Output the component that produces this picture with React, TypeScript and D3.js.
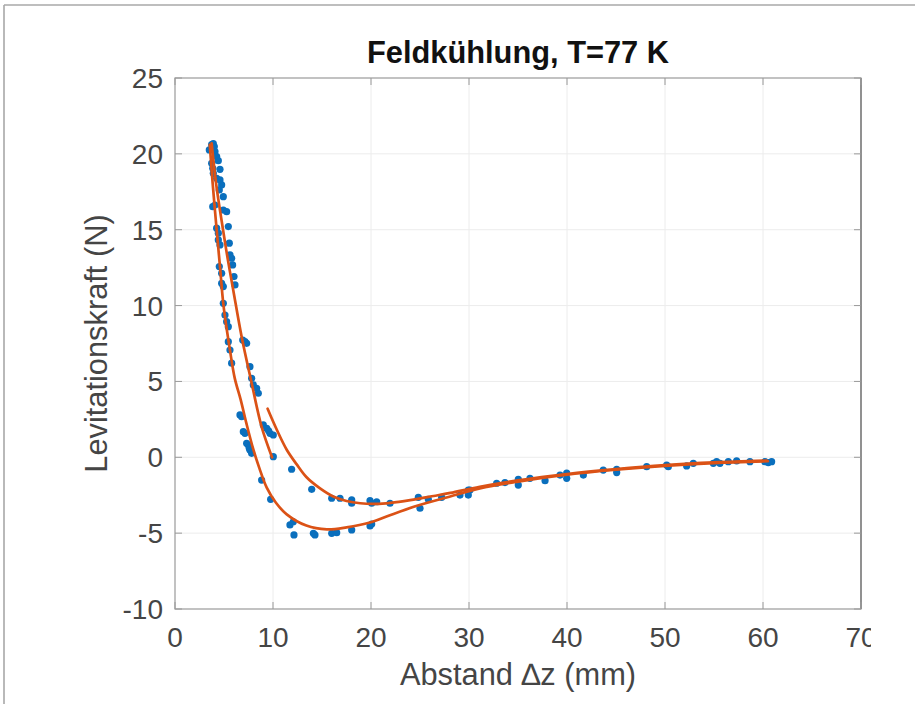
import React from 'react';
import * as d3 from 'd3';

type P = [number, number];

const titleText = 'Feldkühlung, T=77 K';
const xLabelText = 'Abstand \u2206z (mm)';
const yLabelText = 'Levitationskraft (N)';
const xTicks = [0, 10, 20, 30, 40, 50, 60, 70];
const yTicks = [-10, -5, 0, 5, 10, 15, 20, 25];

// measured points, steep part (Δz < 10.5 mm)
const dotsSteep: P[] = [
  [3.50, 20.26], [3.74, 20.61], [3.91, 20.67], [4.01, 20.48], [4.08, 20.15], [4.25, 19.82],
  [4.42, 19.55], [4.59, 18.98], [3.74, 19.38], [3.85, 19.05], [3.91, 18.72], [4.25, 18.39],
  [4.59, 18.28], [4.76, 17.95], [4.52, 17.62], [4.93, 17.18], [3.85, 16.52], [4.08, 16.63],
  [4.93, 16.30], [5.27, 16.19], [4.25, 15.10], [4.42, 14.77], [5.44, 15.21], [4.42, 14.33],
  [4.59, 14.00], [5.54, 14.11], [5.61, 13.34], [5.78, 13.12], [4.52, 12.57], [4.76, 12.13],
  [5.88, 12.68], [6.02, 11.91], [4.76, 11.47], [4.93, 11.25], [6.12, 11.36], [4.93, 10.15],
  [5.10, 9.38], [5.27, 8.94], [5.44, 8.61], [6.91, 7.73], [7.14, 7.62], [7.31, 7.51],
  [5.44, 7.62], [5.61, 7.07], [5.78, 6.20], [7.65, 5.97], [7.82, 5.21], [7.99, 4.77],
  [8.33, 4.55], [8.50, 4.22], [6.63, 2.79], [6.80, 2.68], [6.97, 1.69], [7.14, 1.58],
  [9.01, 2.13], [9.36, 1.91], [9.69, 1.58], [10.03, 1.47], [9.55, 1.75], [7.48, 0.81],
  [7.65, 0.48], [7.82, 0.26], [7.31, 0.92], [7.58, 0.59], [10.03, 0.04],
];

// measured points, minimum region
const dotsLow: P[] = [
  [8.84, -1.50], [9.76, -2.77], [11.90, -0.79], [13.95, -2.11], [15.99, -2.70], [16.84, -2.70],
  [18.03, -2.81], [18.03, -3.03], [19.90, -2.86], [20.07, -3.03], [20.58, -2.93], [21.94, -3.03],
  [24.83, -2.64], [25.00, -3.36], [25.85, -2.77], [27.21, -2.64], [29.08, -2.49], [30.10, -2.16],
  [11.73, -4.46], [12.07, -4.25], [12.14, -5.12], [14.12, -5.01], [14.28, -5.12], [15.99, -5.01],
  [16.50, -4.97], [18.03, -4.79], [19.90, -4.53], [20.07, -4.40],
];

// measured points, tail
const dotsTail: P[] = [
  [29.93, -2.16], [29.93, -2.49], [32.82, -1.71], [33.67, -1.67], [35.03, -1.45], [35.03, -1.83],
  [36.22, -1.39], [37.76, -1.54], [39.29, -1.17], [39.97, -1.05], [39.97, -1.39], [41.67, -1.17],
  [43.70, -0.84], [45.07, -0.79], [45.07, -1.01], [48.13, -0.62], [50.17, -0.51], [50.34, -0.62],
  [52.21, -0.57], [52.89, -0.40], [54.93, -0.40], [55.27, -0.29], [55.61, -0.40], [56.46, -0.29],
  [57.31, -0.24], [58.67, -0.29], [60.20, -0.29], [60.54, -0.35], [60.88, -0.29],
];

// fitted curves
const fitOuter: P[] = [
  [3.55, 20.6], [3.85, 18.0], [4.25, 15.0], [4.6, 12.5], [4.95, 10.0], [5.6, 7.1], [6.1, 5.2],
  [6.7, 3.8], [7.3, 2.2], [8.0, 0.5], [8.6, -0.7], [9.36, -2.0], [10.3, -3.0], [11.4, -3.76],
  [13.4, -4.5], [15.5, -4.75], [17.5, -4.62], [19.9, -4.3], [22.0, -3.8], [24.7, -3.2],
  [28.0, -2.6], [31.1, -2.05], [35.0, -1.6], [40.0, -1.15], [45.0, -0.82], [50.0, -0.56],
  [55.0, -0.38], [60.5, -0.26],
];
const fitInner: P[] = [
  [3.74, 20.7], [4.2, 18.0], [4.9, 15.0], [5.4, 13.0], [5.95, 11.0], [6.8, 7.95],
  [7.82, 4.9], [8.84, 2.0], [9.9, 0.0],
];
const fitReturn: P[] = [
  [9.45, 3.2], [10.4, 1.8], [11.4, 0.5], [12.4, -0.45], [13.4, -1.3], [14.8, -2.05],
  [16.2, -2.6], [17.5, -2.88], [18.9, -3.03], [20.5, -3.07], [22.0, -3.0], [24.0, -2.82],
  [26.4, -2.55], [28.1, -2.35], [31.1, -1.94], [35.0, -1.52], [40.0, -1.1], [45.0, -0.78],
  [50.0, -0.52], [55.0, -0.34], [60.4, -0.22],
];

export default function App() {
  const W = 915;
  const H = 704;
  const L = 175, R = 861, T = 78, B = 609;
  const x = d3.scaleLinear().domain([0, 70]).range([L, R]);
  const y = d3.scaleLinear().domain([-10, 25]).range([B, T]);
  const line = d3
    .line<P>()
    .x((d) => x(d[0]))
    .y((d) => y(d[1]))
    .curve(d3.curveCatmullRom.alpha(0.5));

  const font = "'Liberation Sans', Arial, Helvetica, sans-serif";
  const axisColor = '#9a9a9a';
  const textColor = '#454545';
  const gridColor = '#ececec';
  const allDots = [...dotsSteep, ...dotsLow, ...dotsTail];

  return (
    <svg
      width={W}
      height={H}
      viewBox={`0 0 ${W} ${H}`}
      style={{ position: 'absolute', left: 0, top: 0, background: '#fff' }}
      fontFamily={font}
    >
      <defs>
        <clipPath id="figclip">
          <rect x={0} y={0} width={871} height={H} />
        </clipPath>
      </defs>
      <rect x={0} y={0} width={W} height={H} fill="#fff" />
      {/* outer frame */}
      <line x1={4} y1={5} x2={W} y2={5} stroke="#a8a8a8" strokeWidth={1.6} />
      <line x1={4} y1={5} x2={4} y2={H} stroke="#a8a8a8" strokeWidth={1.6} />

      {/* grid */}
      {xTicks.slice(1, -1).map((t) => (
        <line key={'gx' + t} x1={x(t)} x2={x(t)} y1={T} y2={B} stroke={gridColor} strokeWidth={1} />
      ))}
      {yTicks.slice(1, -1).map((t) => (
        <line key={'gy' + t} x1={L} x2={R} y1={y(t)} y2={y(t)} stroke={gridColor} strokeWidth={1} />
      ))}

      {/* data points */}
      <g fill="#0a6fbd">
        {allDots.map((d, i) => (
          <circle key={i} cx={x(d[0])} cy={y(d[1])} r={3.6} />
        ))}
      </g>

      {/* fits */}
      <g fill="none" stroke="#DB5216" strokeWidth={2.7} strokeLinejoin="round" strokeLinecap="round">
        <path d={line(fitOuter) || ''} />
        <path d={line(fitInner) || ''} />
        <path d={line(fitReturn) || ''} />
      </g>

      {/* axes box */}
      <rect x={L} y={T} width={R - L} height={B - T} fill="none" stroke={axisColor} strokeWidth={1.2} />
      <line x1={R} x2={R} y1={T} y2={B} stroke="#8c8c8c" strokeWidth={1.8} />
      {xTicks.map((t) => (
        <g key={'tx' + t}>
          <line x1={x(t)} x2={x(t)} y1={B} y2={B - 7} stroke={axisColor} />
          <line x1={x(t)} x2={x(t)} y1={T} y2={T + 7} stroke={axisColor} />
        </g>
      ))}
      {yTicks.map((t) => (
        <g key={'ty' + t}>
          <line x1={L} x2={L + 7} y1={y(t)} y2={y(t)} stroke={axisColor} />
          <line x1={R} x2={R - 7} y1={y(t)} y2={y(t)} stroke={axisColor} />
        </g>
      ))}

      {/* tick labels */}
      <g fontSize={28} fill={textColor} clipPath="url(#figclip)">
        {xTicks.map((t) => (
          <text key={'lx' + t} x={x(t)} y={647} textAnchor="middle">
            {t}
          </text>
        ))}
        {yTicks.map((t) => (
          <text key={'ly' + t} x={L - 12} y={y(t) + 10} textAnchor="end">
            {t}
          </text>
        ))}
      </g>

      {/* labels */}
      <text x={(L + R) / 2} y={685} textAnchor="middle" fontSize={30.8} fill={textColor}>
        {xLabelText}
      </text>
      <text
        transform={`translate(107, ${(T + B) / 2}) rotate(-90)`}
        textAnchor="middle"
        fontSize={30.8}
        fill={textColor}
      >
        {yLabelText}
      </text>
      <text x={(L + R) / 2} y={62.5} textAnchor="middle" fontSize={30.8} fontWeight="bold" fill="#111">
        {titleText}
      </text>
    </svg>
  );
}
